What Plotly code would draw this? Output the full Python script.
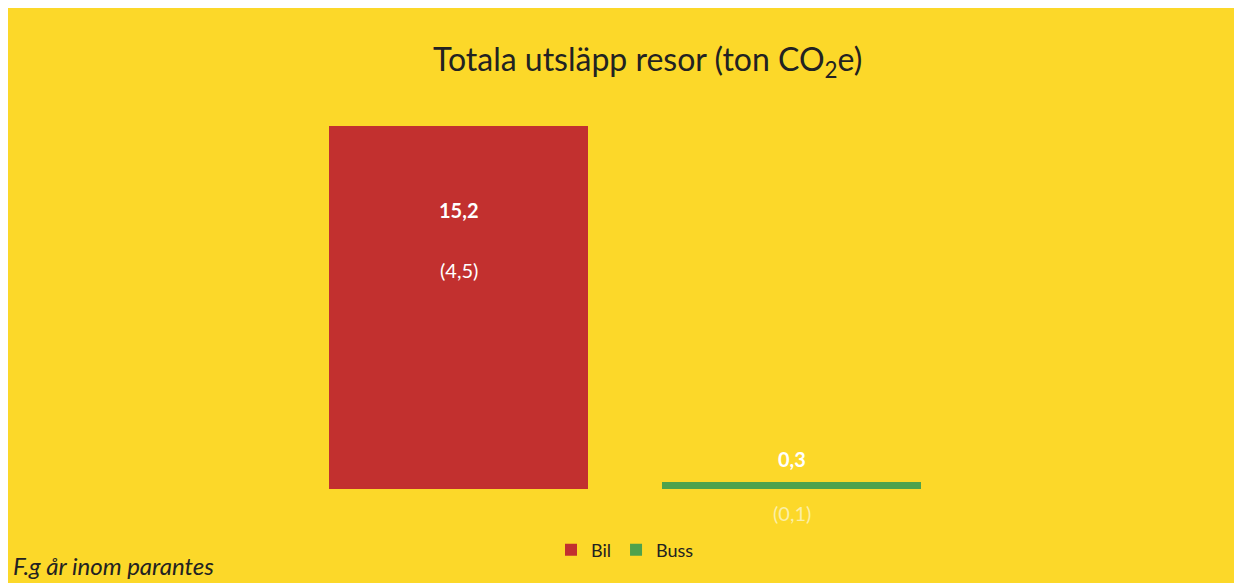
import plotly.graph_objects as go

categories = ["Bil", "Buss"]
values = [15.2, 0.3]
prev_year = [4.5, 0.1]
value_labels = ["15,2", "0,3"]
prev_labels = ["(4,5)", "(0,1)"]
colors = ["#C2302F", "#4EA24C"]

FONT = "Lato"
YELLOW = "#FCD829"

fig = go.Figure()
for i, c in enumerate(categories):
    fig.add_trace(go.Bar(
        x=[c], y=[values[i]], name=c, marker_color=colors[i],
        marker_line_width=0, width=0.78, offsetgroup="a",
    ))

# Value labels
fig.add_annotation(x=categories[0], y=values[0], text="<b>" + value_labels[0] + "</b>",
                   showarrow=False, yshift=-84, font=dict(family=FONT, size=20, color="white"))
fig.add_annotation(x=categories[0], y=values[0], text=prev_labels[0],
                   showarrow=False, yshift=-144, font=dict(family=FONT, size=20, color="white"))
fig.add_annotation(x=categories[1], y=values[1], text="<b>" + value_labels[1] + "</b>",
                   showarrow=False, yshift=23, font=dict(family=FONT, size=20, color="white"))
fig.add_annotation(x=categories[1], y=0, text=prev_labels[1],
                   showarrow=False, yshift=-24, font=dict(family=FONT, size=20, color="#FBEFA6"))

fig.add_annotation(xref="paper", yref="paper", x=-0.422, y=-0.199, xanchor="left", yanchor="middle",
                   text="<i>F.g år inom parantes</i>", showarrow=False,
                   font=dict(family=FONT, size=24, color="#222222"))

fig.update_layout(
    width=1242, height=583,
    margin=dict(l=284, r=292, t=99, b=102),
    paper_bgcolor=YELLOW, plot_bgcolor=YELLOW,
    title=dict(text="Totala utsläpp resor (ton CO<sub>2</sub>e)", x=0.515, xanchor="center",
               y=1 - 52 / 583, yanchor="middle", font=dict(family=FONT, size=32, color="#222222")),
    xaxis=dict(visible=False, range=[-0.5, 1.5]),
    yaxis=dict(visible=False, range=[0, 16]),
    barmode="group", bargap=0,
    showlegend=True,
    legend=dict(orientation="h", x=0.5, xanchor="center", y=-0.16, yanchor="middle",
                font=dict(family=FONT, size=18, color="#222222"), itemwidth=30,
                bgcolor="rgba(0,0,0,0)"),
)

fig.write_html("out.html")
